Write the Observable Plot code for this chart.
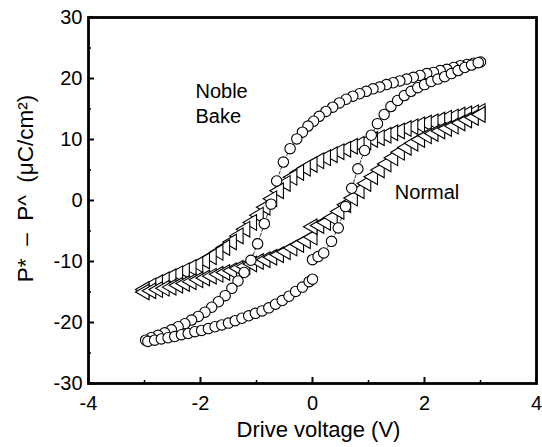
<!DOCTYPE html>
<html>
<head>
<meta charset="utf-8">
<script src="https://cdn.jsdelivr.net/npm/d3@7"></script>
<script src="https://cdn.jsdelivr.net/npm/@observablehq/plot@0.6"></script>
<style>
  html, body { margin: 0; padding: 0; background: #fff; }
  #chart svg { font-family: "Liberation Sans", Arial, sans-serif; }
</style>
</head>
<body>
<div id="chart"></div>
<script>
// Noble Bake (circles): branch from +3 V down to -3 V
const nbDownX = [3.0, 2.88, 2.76, 2.64, 2.52, 2.40, 2.28, 2.16, 2.04, 1.92, 1.80, 1.68, 1.56, 1.44, 1.32, 1.20, 1.08, 0.96, 0.84, 0.72, 0.60, 0.48, 0.36, 0.24, 0.12, 0.02, -0.08, -0.18, -0.28, -0.40, -0.52, -0.64, -0.74, -0.86, -0.98, -1.10, -1.22, -1.33, -1.44, -1.56, -1.68, -1.80, -1.92, -2.04, -2.16, -2.28, -2.40, -2.52, -2.64, -2.76, -2.88, -2.98];
const nbDownY = [22.7, 22.5, 22.3, 22.1, 21.8, 21.5, 21.3, 21.0, 20.8, 20.5, 20.2, 19.9, 19.6, 19.3, 19.0, 18.6, 18.3, 17.9, 17.5, 17.1, 16.6, 16.0, 15.3, 14.6, 13.8, 13.0, 12.2, 11.2, 10.1, 8.5, 6.3, 3.2, -0.6, -3.8, -7.1, -9.8, -11.8, -13.2, -14.4, -15.6, -16.6, -17.5, -18.3, -19.0, -19.6, -20.2, -20.7, -21.2, -21.7, -22.1, -22.5, -22.9];
// Noble Bake (circles): branch from -3 V up to 0 V
const nbUpLeftX = [-2.94, -2.82, -2.70, -2.58, -2.46, -2.34, -2.22, -2.10, -1.98, -1.86, -1.74, -1.62, -1.50, -1.38, -1.26, -1.14, -1.02, -0.90, -0.78, -0.66, -0.54, -0.42, -0.30, -0.18, -0.06, 0.0];
const nbUpLeftY = [-23.1, -22.9, -22.7, -22.5, -22.3, -22.0, -21.8, -21.5, -21.3, -21.0, -20.7, -20.4, -20.1, -19.7, -19.3, -18.9, -18.5, -18.1, -17.6, -17.0, -16.4, -15.7, -14.9, -14.2, -13.3, -12.9];
// Noble Bake (circles): branch from 0 V up to +3 V
const nbUpRightX = [0.0, 0.10, 0.20, 0.34, 0.46, 0.59, 0.70, 0.81, 0.93, 1.05, 1.16, 1.28, 1.40, 1.52, 1.64, 1.76, 1.88, 2.00, 2.12, 2.24, 2.36, 2.48, 2.60, 2.72, 2.84, 2.96];
const nbUpRightY = [-9.7, -9.2, -8.6, -6.7, -4.5, -1.0, 2.0, 5.2, 8.2, 10.7, 12.6, 14.1, 15.4, 16.4, 17.2, 17.9, 18.5, 19.0, 19.5, 19.9, 20.3, 20.8, 21.3, 21.8, 22.2, 22.6];

// Normal (triangles): branch from +3 V down to -3 V
const nDownX = [3.0, 2.88, 2.76, 2.64, 2.52, 2.40, 2.28, 2.16, 2.04, 1.92, 1.80, 1.68, 1.56, 1.44, 1.32, 1.20, 1.08, 0.96, 0.84, 0.72, 0.60, 0.48, 0.36, 0.24, 0.12, 0.0, -0.12, -0.24, -0.36, -0.48, -0.60, -0.72, -0.84, -0.96, -1.08, -1.20, -1.32, -1.44, -1.56, -1.68, -1.80, -1.92, -2.04, -2.16, -2.28, -2.40, -2.52, -2.64, -2.76, -2.88, -3.0];
const nDownY = [14.6, 14.4, 14.2, 14.0, 13.7, 13.5, 13.2, 12.9, 12.7, 12.4, 12.1, 11.8, 11.4, 11.1, 10.7, 10.3, 10.0, 9.6, 9.2, 8.9, 8.4, 8.0, 7.5, 7.0, 6.5, 5.9, 5.3, 4.6, 3.8, 2.8, 1.6, 0.3, -1.1, -2.4, -3.6, -4.7, -5.8, -6.8, -7.7, -8.5, -9.2, -9.9, -10.5, -11.0, -11.5, -12.0, -12.5, -13.0, -13.5, -14.0, -14.6];
// Normal (triangles): branch from -3 V up to 0 V
const nUpLeftX = [-3.0, -2.88, -2.76, -2.64, -2.52, -2.40, -2.28, -2.16, -2.04, -1.92, -1.80, -1.68, -1.56, -1.44, -1.32, -1.20, -1.08, -0.96, -0.84, -0.72, -0.60, -0.48, -0.36, -0.24, -0.12, 0.0];
const nUpLeftY = [-15.0, -14.8, -14.6, -14.4, -14.2, -13.9, -13.6, -13.3, -13.0, -12.7, -12.4, -12.1, -11.8, -11.5, -11.1, -10.8, -10.4, -10.0, -9.7, -9.3, -8.9, -8.4, -7.8, -7.2, -6.6, -6.0];
// Normal (triangles): branch from 0 V up to +3 V
const nUpRightX = [0.0, 0.12, 0.24, 0.36, 0.48, 0.60, 0.72, 0.84, 0.96, 1.08, 1.20, 1.32, 1.44, 1.56, 1.68, 1.80, 1.92, 2.04, 2.16, 2.28, 2.40, 2.52, 2.64, 2.76, 2.88, 3.0];
const nUpRightY = [-4.3, -4.1, -3.6, -2.8, -1.8, -0.7, 0.4, 1.6, 2.8, 3.9, 5.0, 6.0, 7.0, 7.9, 8.7, 9.4, 10.0, 10.6, 11.0, 11.4, 11.8, 12.2, 12.7, 13.2, 13.6, 14.1];

const xTicks = [-4, -2, 0, 2, 4];
const xMinor = [-3, -1, 1, 3];
const yTicks = [-30, -20, -10, 0, 10, 20, 30];
const yMinor = [-25, -15, -5, 5, 15, 25];
const xTitle = "Drive voltage (V)";
const yTitle = "P*  –  P^  (μC/cm²)";
const labels = [
  {text: "Noble\nBake", x: -2.09, y: 16.0},
  {text: "Normal", x: 1.47, y: 1.6}
];

const toRows = (xs, ys, branch) => xs.map((x, i) => ({x, y: ys[i], branch}));
const circles = [
  ...toRows(nbDownX, nbDownY, "down"),
  ...toRows(nbUpLeftX, nbUpLeftY, "upL"),
  ...toRows(nbUpRightX, nbUpRightY, "upR")
];
const triangles = [
  ...toRows(nDownX, nDownY, "down"),
  ...toRows(nUpLeftX, nUpLeftY, "upL"),
  ...toRows(nUpRightX, nUpRightY, "upR")
];

const W = 542, H = 447;
const mL = 88, mR = 6, mT = 17, mB = 64;
const fw = W - mL - mR, fh = H - mT - mB;

const chart = Plot.plot({
  width: W,
  height: H,
  marginLeft: mL,
  marginRight: mR,
  marginTop: mT,
  marginBottom: mB,
  style: {fontFamily: "'Liberation Sans', Arial, sans-serif", background: "#fff", color: "#000"},
  x: {domain: [-4, 4]},
  y: {domain: [-30, 30]},
  marks: [
    // connecting lines
    Plot.line(circles, {x: "x", y: "y", z: "branch", stroke: "#000", strokeWidth: 0.8, strokeDasharray: "3,2"}),
    Plot.line(triangles, {x: "x", y: "y", z: "branch", stroke: "#000", strokeWidth: 0.9}),
    // markers
    Plot.dot(triangles, {x: "x", y: "y", symbol: "triangle", r: 5.8, rotate: -90, fill: "#fff", stroke: "#000", strokeWidth: 1.1}),
    Plot.dot(circles, {x: "x", y: "y", r: 5.2, fill: "#fff", stroke: "#000", strokeWidth: 1.1}),
    // inward ticks
    Plot.tickY(yTicks, {y: d => d, insetRight: fw - 6, stroke: "#000", strokeWidth: 2}),
    Plot.tickY(yMinor, {y: d => d, insetRight: fw - 3, stroke: "#000", strokeWidth: 1.5}),
    Plot.tickX(xTicks, {x: d => d, insetTop: fh - 6, stroke: "#000", strokeWidth: 2}),
    Plot.tickX(xMinor, {x: d => d, insetTop: fh - 3, stroke: "#000", strokeWidth: 1.5}),
    // axes (tick labels)
    Plot.axisX({ticks: xTicks, tickSize: 0, tickPadding: 12, fontSize: 20, tickFormat: d => String(d), label: null}),
    Plot.axisY({ticks: yTicks, tickSize: 0, tickPadding: 6, fontSize: 20, tickFormat: d => String(d), label: null}),
    // axis titles
    Plot.text([xTitle], {text: d => d, frameAnchor: "bottom", textAnchor: "middle", dx: 6, dy: 46, fontSize: 22, lineAnchor: "middle", fill: "#000"}),
    Plot.text([yTitle], {text: d => d, frameAnchor: "left", textAnchor: "middle", rotate: -90, dx: -63, dy: -12, fontSize: 22.5, lineAnchor: "middle", fill: "#000"}),
    Plot.frame({stroke: "#000", strokeWidth: 2.8}),
    // annotations
    Plot.text(labels, {x: "x", y: "y", text: "text", textAnchor: "start", fontSize: 20, lineHeight: 1.25, fill: "#000"})
  ]
});
document.getElementById("chart").appendChild(chart);
</script>
</body>
</html>
